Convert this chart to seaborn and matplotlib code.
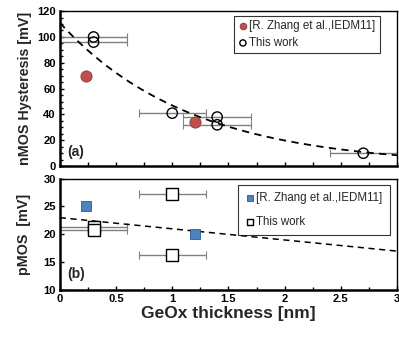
import numpy as np
import pandas as pd
import seaborn as sns
import matplotlib.pyplot as plt
from matplotlib.ticker import MultipleLocator

# --- dados ---
# (a) nMOS
zhang_n_x = [0.23, 1.2]
zhang_n_y = [70, 34]
this_n_x = [0.3, 0.3, 1.0, 1.4, 1.4, 2.7]
this_n_y = [100, 96, 41, 38, 32, 10]
this_n_xerr = [0.3, 0.3, 0.3, 0.3, 0.3, 0.3]
# linha de tendência exponencial (y = a*exp(-k*x)), estimada da figura
trend_n_a = 111
trend_n_k = 0.86

# (b) pMOS
zhang_p_x = [0.23, 1.2]
zhang_p_y = [25, 20]
this_p_x = [0.3, 0.3, 1.0, 1.0]
this_p_y = [21.3, 20.8, 27.3, 16.3]
this_p_xerr = [0.3, 0.3, 0.3, 0.3]
# tendência linear (y = b0 + b1*x)
trend_p_b0 = 23.0
trend_p_b1 = -2.0

x_ticks = [0, 0.5, 1, 1.5, 2, 2.5, 3]
x_tick_labels = ['0', '0.5', '1', '1.5', '2', '2.5', '3']

vermelho = '#C0504D'
azul = '#4F81BD'

sns.set_theme(style="ticks")
plt.rcParams['font.family'] = ['Liberation Sans', 'DejaVu Sans']

fig = plt.figure(figsize=(3.99, 3.37), dpi=100)
ax1 = fig.add_axes([0.150, 0.507, 0.845, 0.460])
ax2 = fig.add_axes([0.150, 0.139, 0.845, 0.331])

df_zn = pd.DataFrame({'x': zhang_n_x, 'y': zhang_n_y})
df_tn = pd.DataFrame({'x': this_n_x, 'y': this_n_y})
df_zp = pd.DataFrame({'x': zhang_p_x, 'y': zhang_p_y})
df_tp = pd.DataFrame({'x': this_p_x, 'y': this_p_y})

# ---- painel (a) ----
ax1.errorbar(this_n_x, this_n_y, xerr=this_n_xerr, fmt='none', ecolor='#808080',
             elinewidth=1.0, capsize=3, capthick=0.8, zorder=1)
xt = np.linspace(0, 3, 200)
ax1.plot(xt, trend_n_a * np.exp(-trend_n_k * xt), ls=(0, (4, 3)), color='black', lw=1.3, zorder=2)
sns.scatterplot(data=df_zn, x='x', y='y', ax=ax1, marker='o', s=65, color=vermelho,
                edgecolor='#8c3a38', linewidth=0.6, zorder=3, label='[R. Zhang et al.,IEDM11]')
sns.scatterplot(data=df_tn, x='x', y='y', ax=ax1, marker='o', s=55, facecolor='none',
                edgecolor='black', linewidth=1.0, zorder=4, label='This work')
ax1.set_xlim(0, 3)
ax1.set_ylim(0, 120)
ax1.yaxis.set_major_locator(MultipleLocator(20))
ax1.yaxis.set_minor_locator(MultipleLocator(5))
ax1.xaxis.set_major_locator(MultipleLocator(0.25))
ax1.xaxis.set_major_formatter(plt.NullFormatter())
ax1.set_xlabel('')
ax1.set_ylabel('nMOS Hysteresis [mV]', fontsize=10.3, fontweight='bold', labelpad=4)
ax1.text(0.065, 11, '(a)', fontsize=10, fontweight='bold', va='center')
leg1 = ax1.legend(loc='upper right', bbox_to_anchor=(0.955, 0.985), fontsize=8.3, frameon=True,
                  fancybox=False, edgecolor='black', markerscale=0.6, handletextpad=0.1,
                  borderpad=0.35, labelspacing=0.45, handlelength=0.9, borderaxespad=0.2)
leg1.get_frame().set_linewidth(0.8)

# ---- painel (b) ----
ax2.errorbar(this_p_x, this_p_y, xerr=this_p_xerr, fmt='none', ecolor='#808080',
             elinewidth=1.0, capsize=3, capthick=0.8, zorder=1)
ax2.plot(xt, trend_p_b0 + trend_p_b1 * xt, ls=(0, (4, 3)), color='black', lw=1.1, zorder=2)
sns.scatterplot(data=df_zp, x='x', y='y', ax=ax2, marker='s', s=55, color=azul,
                edgecolor='#2f5597', linewidth=0.6, zorder=3, label='[R. Zhang et al.,IEDM11]')
sns.scatterplot(data=df_tp, x='x', y='y', ax=ax2, marker='s', s=65, facecolor='white',
                edgecolor='black', linewidth=1.0, zorder=4, label='This work')
ax2.set_ylim(10, 30)
ax2.yaxis.set_major_locator(MultipleLocator(5))
ax2.set_xticks(x_ticks, x_tick_labels)
ax2.xaxis.set_minor_locator(MultipleLocator(0.25))
ax2.set_xlim(0, 3)
ax2.set_ylabel('pMOS  [mV]', fontsize=10.3, fontweight='bold', labelpad=9)
ax2.set_xlabel('GeOx thickness [nm]', fontsize=12.5, fontweight='bold', labelpad=1)
ax2.text(0.065, 12.9, '(b)', fontsize=10, fontweight='bold', va='center')
leg2 = ax2.legend(loc='upper right', bbox_to_anchor=(0.985, 0.96), fontsize=8.3, frameon=True,
                  fancybox=False, edgecolor='black', markerscale=0.6, handletextpad=0.1,
                  borderpad=0.6, labelspacing=1.0, handlelength=0.9, borderaxespad=0.2)
leg2.get_frame().set_linewidth(0.8)

for ax in (ax1, ax2):
    for s in ax.spines.values():
        s.set_linewidth(1.0)
        s.set_color('black')
    ax.spines['left'].set_linewidth(1.8)
    ax.spines['bottom'].set_linewidth(1.8)
    ax.tick_params(which='both', direction='in', length=3, width=1, colors='black',
                   labelsize=8, pad=3, right=False, top=False)
    ax.tick_params(which='minor', length=2)
    for lbl in ax.get_xticklabels() + ax.get_yticklabels():
        lbl.set_fontweight('bold')

fig.savefig('out.png', dpi=100)
